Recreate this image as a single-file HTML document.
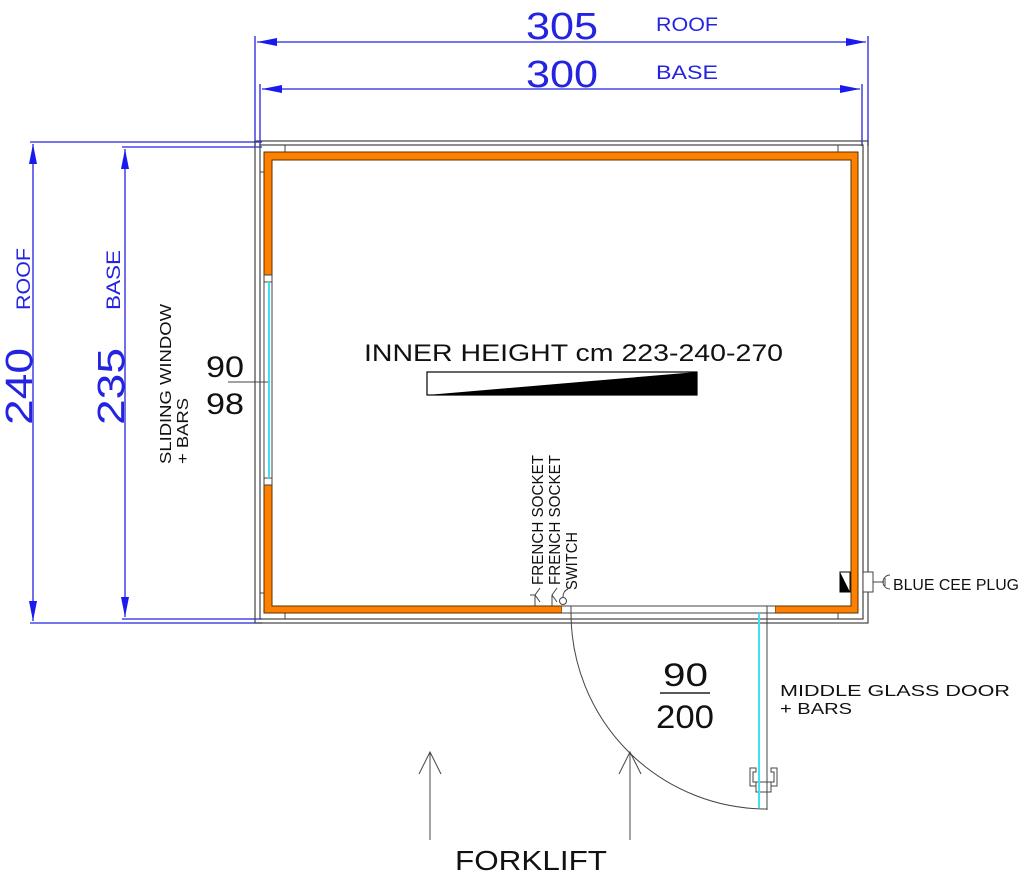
<!DOCTYPE html>
<html><head><style>
html,body{margin:0;padding:0;background:#fff;}
svg{display:block}
text{font-family:"Liberation Sans",sans-serif;}
</style></head><body>
<svg width="1020" height="880" viewBox="0 0 1020 880" xmlns="http://www.w3.org/2000/svg">
<defs>
<marker id="a" viewBox="0 0 20 8" refX="20" refY="4" markerWidth="20" markerHeight="8" markerUnits="userSpaceOnUse" orient="auto-start-reverse"><path d="M0,0 L20,4 L0,8z" fill="#1a1aee"/></marker>
</defs>
<!-- blue dimensions -->
<g stroke="#2424e0" stroke-width="1.3" fill="none">
<line x1="255" y1="36" x2="255" y2="146"/>
<line x1="868" y1="36" x2="868" y2="146"/>
<line x1="260" y1="84" x2="260" y2="146"/>
<line x1="862" y1="84" x2="862" y2="146"/>
<line x1="257" y1="42" x2="866" y2="42" marker-start="url(#a)" marker-end="url(#a)"/>
<line x1="262" y1="89" x2="860" y2="89" marker-start="url(#a)" marker-end="url(#a)"/>
<line x1="30" y1="142" x2="262" y2="142"/>
<line x1="30" y1="623" x2="262" y2="623"/>
<line x1="122" y1="147" x2="262" y2="147"/>
<line x1="122" y1="619" x2="262" y2="619"/>
<line x1="33" y1="144" x2="33" y2="621" marker-start="url(#a)" marker-end="url(#a)"/>
<line x1="125" y1="149" x2="125" y2="617" marker-start="url(#a)" marker-end="url(#a)"/>
</g>
<g fill="#2424e0">
<text x="526" y="39" font-size="38" textLength="72" lengthAdjust="spacingAndGlyphs" style="font-weight:100">305</text>
<text x="656" y="31" font-size="19" textLength="62" lengthAdjust="spacingAndGlyphs">ROOF</text>
<text x="526" y="87" font-size="38" textLength="72" lengthAdjust="spacingAndGlyphs">300</text>
<text x="656" y="79" font-size="19" textLength="62" lengthAdjust="spacingAndGlyphs">BASE</text>
<text transform="translate(32,425) rotate(-90)" font-size="38" textLength="77" lengthAdjust="spacingAndGlyphs">240</text>
<text transform="translate(30,310) rotate(-90)" font-size="19" textLength="62" lengthAdjust="spacingAndGlyphs">ROOF</text>
<text transform="translate(124,425) rotate(-90)" font-size="38" textLength="77" lengthAdjust="spacingAndGlyphs">235</text>
<text transform="translate(120,310) rotate(-90)" font-size="19" textLength="60" lengthAdjust="spacingAndGlyphs">BASE</text>
</g>
<!-- walls -->
<g fill="none" stroke="#444" stroke-width="1.2">
<rect x="255" y="141" width="613" height="482"/>
<rect x="260" y="145" width="603" height="474"/>
</g>
<path d="M264,152 H858 V613 H775 V606 H851 V160 H272 V606 H562 V613 H264 Z" fill="#ff8000" stroke="#553300" stroke-width="1"/>
<!-- window -->
<rect x="263" y="275" width="10" height="210" fill="#fff"/>
<g stroke="#444" stroke-width="1"><line x1="264" y1="275" x2="264" y2="485"/><line x1="272" y1="275" x2="272" y2="485"/><line x1="264" y1="282" x2="272" y2="282"/><line x1="264" y1="478" x2="272" y2="478"/><line x1="264" y1="275" x2="272" y2="275"/><line x1="264" y1="485" x2="272" y2="485"/></g>
<line x1="269" y1="282" x2="269" y2="478" stroke="#40e0f0" stroke-width="2"/>
<!-- door opening -->
<rect x="562" y="605" width="213" height="9" fill="#fff"/>
<g stroke="#444" stroke-width="1" fill="none">
<line x1="562" y1="606" x2="775" y2="606"/>
<line x1="562" y1="613" x2="775" y2="613"/>
<line x1="571" y1="606" x2="571" y2="613"/>
<line x1="767" y1="606" x2="767" y2="810"/>
<path d="M571,613 A196,196 0 0 0 767,809"/>
<line x1="430" y1="840" x2="430" y2="752"/><polyline points="419,774 430,752 441,774"/>
<line x1="630" y1="840" x2="630" y2="752"/><polyline points="619,774 630,752 641,774"/>
<path d="M750,768 h6 v4 h-3 v10 h3 v4 h-6z M777,768 h-6 v4 h3 v10 h-3 v4 h6z M756,782 h15 v10 h-15z"/>
<!-- ticks -->
<line x1="285" y1="145" x2="285" y2="152"/><line x1="838" y1="145" x2="838" y2="152"/>
<line x1="285" y1="613" x2="285" y2="619"/><line x1="838" y1="613" x2="838" y2="619"/>
<line x1="260" y1="172" x2="264" y2="172"/><line x1="260" y1="593" x2="264" y2="593"/>
<!-- sockets -->
<line x1="535" y1="595" x2="535" y2="606"/><path d="M540,588 L535,595 L540,602"/><line x1="530" y1="595" x2="535" y2="595"/>
<line x1="552" y1="595" x2="552" y2="606"/><path d="M557,588 L552,595 L557,602"/>
<circle cx="563" cy="601" r="3.5"/><path d="M563,597 q0,-6 5,-8"/>
<!-- cee plug -->
<rect x="863" y="572" width="10" height="20" fill="#fff"/>
<line x1="873" y1="582" x2="884" y2="582"/><path d="M890,575 a7,7 0 0 0 0,14"/>
<line x1="885" y1="578" x2="885" y2="586"/>
<line x1="228" y1="382" x2="268" y2="382"/>
</g>
<line x1="759" y1="613" x2="759" y2="808" stroke="#40e0f0" stroke-width="2"/>
<path d="M840,572 h10 v20 h-10z" fill="#fff" stroke="#000"/><path d="M840,572 L850,592 H840Z" fill="#000"/>
<!-- gradient bar -->
<rect x="427" y="372" width="270" height="23" fill="#fff" stroke="#000" stroke-width="1.2"/>
<path d="M427,395 L697,372 V395Z" fill="#000"/>
<!-- text -->
<g fill="#111">
<text x="364" y="361" font-size="24" textLength="419" lengthAdjust="spacingAndGlyphs">INNER HEIGHT cm 223-240-270</text>
<text x="206" y="377" font-size="30" textLength="38" lengthAdjust="spacingAndGlyphs">90</text>
<text x="206" y="414" font-size="30" textLength="38" lengthAdjust="spacingAndGlyphs">98</text>
<text x="663" y="686" font-size="32" textLength="45" lengthAdjust="spacingAndGlyphs">90</text>
<line x1="660" y1="693" x2="710" y2="693" stroke="#222" stroke-width="1.5"/>
<text x="656" y="728" font-size="32" textLength="58" lengthAdjust="spacingAndGlyphs">200</text>
<text x="780" y="696" font-size="16" textLength="230" lengthAdjust="spacingAndGlyphs">MIDDLE GLASS DOOR</text>
<text x="780" y="714" font-size="16" textLength="72" lengthAdjust="spacingAndGlyphs">+ BARS</text>
<text x="893" y="590" font-size="16" textLength="126" lengthAdjust="spacingAndGlyphs">BLUE CEE PLUG</text>
<text x="455" y="870" font-size="28" textLength="152" lengthAdjust="spacingAndGlyphs">FORKLIFT</text>
<text transform="translate(171,464) rotate(-90)" font-size="16" textLength="160" lengthAdjust="spacingAndGlyphs">SLIDING WINDOW</text>
<text transform="translate(188,464) rotate(-90)" font-size="16" textLength="66" lengthAdjust="spacingAndGlyphs">+ BARS</text>
<text transform="translate(543,585) rotate(-90)" font-size="16" textLength="130" lengthAdjust="spacingAndGlyphs">FRENCH SOCKET</text>
<text transform="translate(560,585) rotate(-90)" font-size="16" textLength="130" lengthAdjust="spacingAndGlyphs">FRENCH SOCKET</text>
<text transform="translate(577,590) rotate(-90)" font-size="16" textLength="58" lengthAdjust="spacingAndGlyphs">SWITCH</text>
</g>
</svg>
</body></html>
